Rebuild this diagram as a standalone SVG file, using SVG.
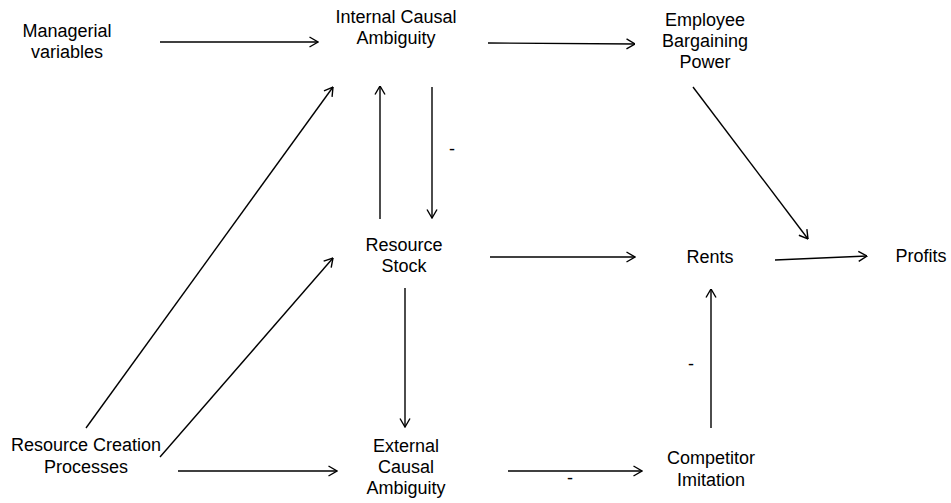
<svg xmlns="http://www.w3.org/2000/svg" width="951" height="503" viewBox="0 0 951 503">
<style>
text{font-family:"Liberation Sans",Arial,sans-serif;font-size:18px;fill:#000;text-anchor:middle}
.c line{stroke:#000;stroke-width:1.4;fill:none;marker-end:url(#ah)}
</style>
<defs>
<marker id="ah" viewBox="0 0 10 12" refX="9.5" refY="6" markerWidth="10" markerHeight="12" markerUnits="userSpaceOnUse" orient="auto">
<path d="M1,1 L9.5,6 L1,11" fill="none" stroke="#000" stroke-width="1.4"/>
</marker>
</defs>
<rect width="951" height="503" fill="#fff"/>
<g id="n-managerial"><text x="67" y="37">Managerial</text><text x="67" y="58">variables</text></g>
<g id="n-ica"><text x="396" y="23">Internal Causal</text><text x="396" y="44">Ambiguity</text></g>
<g id="n-ebp"><text x="705" y="26">Employee</text><text x="705" y="47">Bargaining</text><text x="705" y="68">Power</text></g>
<g id="n-rs"><text x="404" y="251">Resource</text><text x="404" y="272">Stock</text></g>
<g id="n-rents"><text x="710" y="263">Rents</text></g>
<g id="n-profits"><text x="921" y="262">Profits</text></g>
<g id="n-rcp"><text x="86" y="451">Resource Creation</text><text x="86" y="473">Processes</text></g>
<g id="n-eca"><text x="406" y="452">External</text><text x="406" y="473">Causal</text><text x="406" y="494">Ambiguity</text></g>
<g id="n-ci"><text x="711" y="464">Competitor</text><text x="711" y="486">Imitation</text></g>
<g id="connectors" class="c">
<line x1="160" y1="42" x2="318" y2="42"/>
<line x1="488" y1="43" x2="635" y2="44"/>
<line x1="693" y1="87" x2="808" y2="239"/>
<line x1="775" y1="260" x2="867" y2="256"/>
<line x1="490" y1="257" x2="635" y2="257"/>
<line x1="711" y1="428" x2="711" y2="289"/>
<line x1="405" y1="288" x2="405" y2="427"/>
<line x1="432" y1="87" x2="432" y2="218"/>
<line x1="380" y1="219" x2="380" y2="86"/>
<line x1="86" y1="428" x2="333" y2="87"/>
<line x1="160" y1="457" x2="333" y2="258"/>
<line x1="178" y1="471" x2="337" y2="471"/>
<line x1="508" y1="471" x2="642" y2="471"/>
</g>
<g id="labels">
<text x="452" y="155">-</text>
<text x="691" y="370">-</text>
<text x="570" y="484">-</text>
</g>
</svg>
